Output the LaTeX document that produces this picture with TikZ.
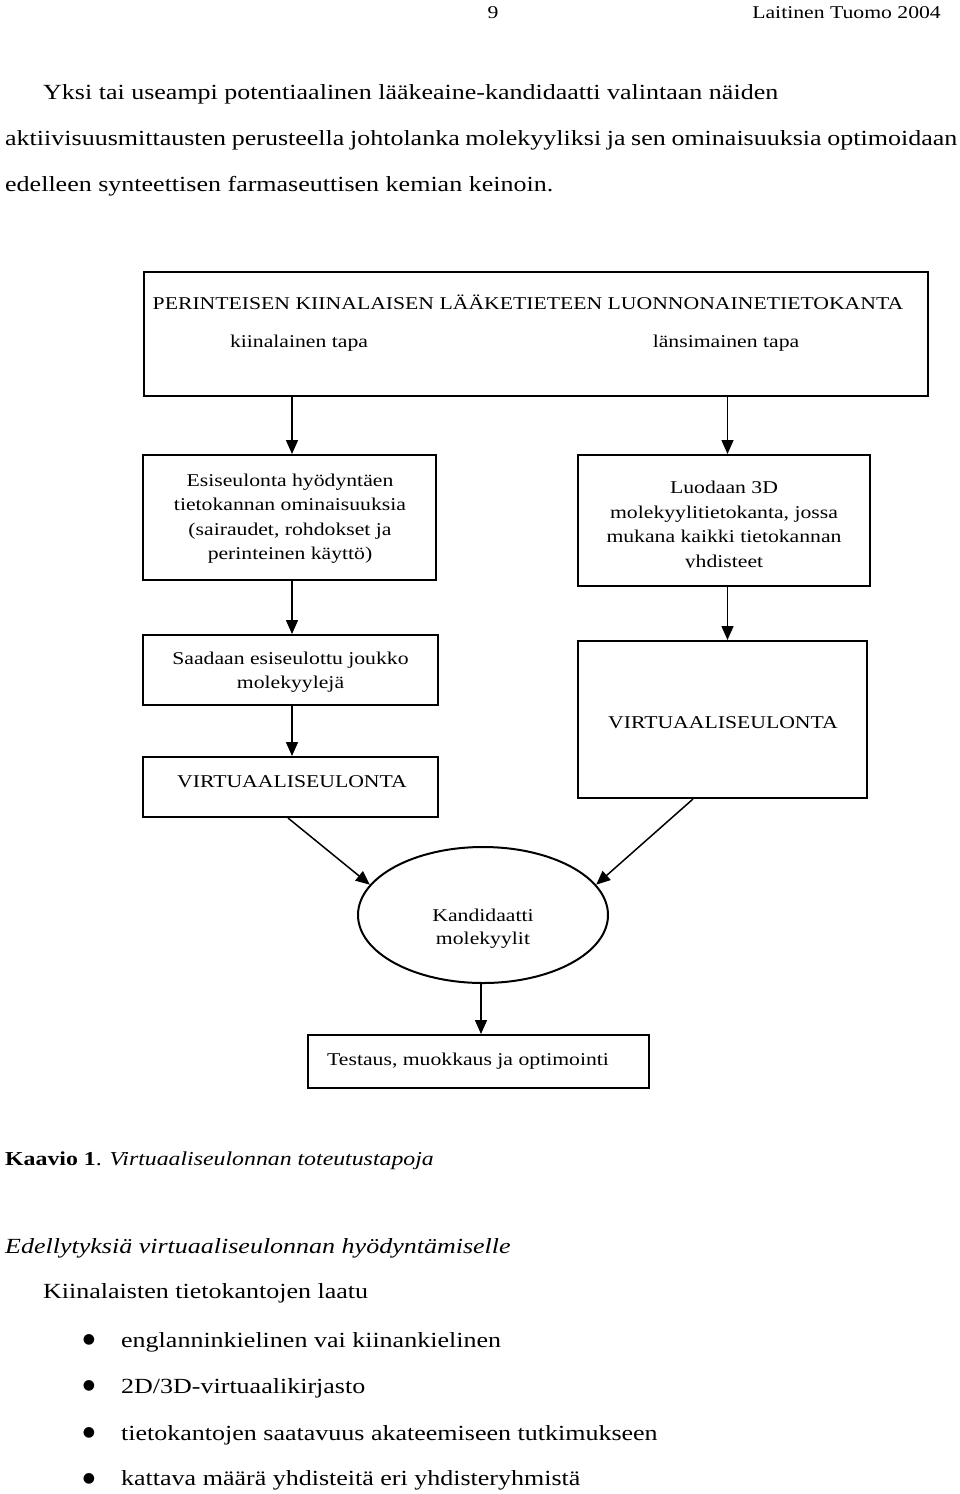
\documentclass[tikz,border=0pt]{standalone}
\usepackage{fontspec}
\setmainfont{Liberation Serif}
\newfontfamily\symfont{DejaVu Sans}
\usetikzlibrary{arrows.meta,shapes.geometric}
\begin{document}
\begin{tikzpicture}[x=1pt,y=-1pt,
  boxed/.style 2 args={draw, line width=2pt, rectangle, inner sep=0pt, minimum width=#1, minimum height=#2},
  stxt/.style={inner sep=0pt, anchor=base, yscale=0.83, font=\fontsize{21.7pt}{24pt}\selectfont},
  btxt/.style={inner sep=0pt, anchor=base west, yscale=0.83, font=\fontsize{26pt}{30pt}\selectfont},
  bul/.style={inner sep=0pt, anchor=center, font=\symfont\fontsize{14pt}{16pt}\selectfont},
  arr/.style={line width=1.5pt, -{Triangle[length=14pt,width=12pt]}}
]
\fill[white] (0,0) rectangle (960,1494);
\useasboundingbox (0,0) rectangle (960,1494);

% header
\node[stxt] (pg) at (493,18) {9};
\node[stxt, anchor=base east] (auth) at (941,18) {Laitinen Tuomo 2004};

% paragraph
\node[btxt] (p1) at (43,99) {Yksi tai useampi potentiaalinen lääkeaine-kandidaatti valintaan näiden};
\node[btxt] (p2) at (5,145) {\makebox[952pt][s]{aktiivisuusmittausten perusteella johtolanka molekyyliksi ja sen ominaisuuksia optimoidaan}};
\node[btxt] (p3) at (5,191) {edelleen synteettisen farmaseuttisen kemian keinoin.};

% boxes
\node[boxed={784pt}{124pt}] (top) at (536,334) {};
\node[boxed={293pt}{125pt}] (A) at (289.5,517.5) {};
\node[boxed={292pt}{131pt}] (B) at (724,520.5) {};
\node[boxed={295pt}{70pt}] (C) at (290.5,670) {};
\node[boxed={289pt}{157pt}] (D) at (722.5,719.5) {};
\node[boxed={295pt}{60pt}] (E) at (290.5,787) {};
\node[draw, line width=2pt, ellipse, inner sep=0pt, minimum width=250pt, minimum height=136pt] (K) at (483,915) {};
\node[boxed={341pt}{53pt}] (F) at (478.5,1061.5) {};

% box texts
\node[stxt] (t0) at (528,309) {PERINTEISEN KIINALAISEN LÄÄKETIETEEN LUONNONAINETIETOKANTA};
\node[stxt] (t1) at (299,347) {kiinalainen tapa};
\node[stxt] (t2) at (726,347) {länsimainen tapa};

\node[stxt] (a1) at (290,486) {Esiseulonta hyödyntäen};
\node[stxt] (a2) at (290,510.5) {tietokannan ominaisuuksia};
\node[stxt] (a3) at (290,535) {(sairaudet, rohdokset ja};
\node[stxt] (a4) at (290,559.5) {perinteinen käyttö)};

\node[stxt] (b1) at (724,493) {Luodaan 3D};
\node[stxt] (b2) at (724,518) {molekyylitietokanta, jossa};
\node[stxt] (b3) at (724,542) {mukana kaikki tietokannan};
\begin{scope}
\clip (580,550) rectangle (868,567.5);
\node[stxt] (b4) at (724,567) {yhdisteet};
\end{scope}

\node[stxt] (c1) at (290.5,664) {Saadaan esiseulottu joukko};
\node[stxt] (c2) at (290.5,688) {molekyylejä};
\node[stxt] (d1) at (723,728) {VIRTUAALISEULONTA};
\node[stxt] (e1) at (292,787) {VIRTUAALISEULONTA};
\node[stxt] (k1) at (483,921) {Kandidaatti};
\node[stxt] (k2) at (483,944) {molekyylit};
\node[stxt, anchor=base west] (f1) at (327,1065) {Testaus, muokkaus ja optimointi};

% connectors
\draw[arr] ([xshift=2.5pt]A.north |- top.south) -- ([xshift=2.5pt]A.north);
\draw[arr] ([xshift=3.5pt]B.north |- top.south) -- ([xshift=3.5pt]B.north);
\draw[arr] ([xshift=2.5pt]A.south) -- ([xshift=2.5pt]A.south |- C.north);
\draw[arr] ([xshift=3.5pt]B.south) -- ([xshift=3.5pt]B.south |- D.north);
\draw[arr] ([xshift=1.5pt]C.south) -- ([xshift=1.5pt]C.south |- E.north);
\draw[arr] ([xshift=-2.5pt]E.south) -- (K.165);
\draw[arr] ([xshift=-29.5pt]D.south) -- (K.15);
\draw[arr] ([xshift=-2pt]K.south) -- ([xshift=-2pt]K.south |- F.north);

% caption and list
\node[inner sep=0pt, anchor=base west, yscale=0.83, font=\fontsize{23.8pt}{28pt}\selectfont] (cap) at (5,1165) {\textbf{Kaavio 1}. \textit{Virtuaaliseulonnan toteutustapoja}};
\node[btxt, font=\fontsize{26pt}{30pt}\selectfont\itshape] (h2) at (5,1253) {Edellytyksiä virtuaaliseulonnan hyödyntämiselle};
\node[btxt] (l0) at (43,1298) {Kiinalaisten tietokantojen laatu};
\node[bul] (u1) at (89,1340) {●};
\node[bul] (u2) at (89,1386) {●};
\node[bul] (u3) at (89,1433) {●};
\node[bul] (u4) at (89,1479) {●};
\node[btxt] (l1) at (121,1347) {englanninkielinen vai kiinankielinen};
\node[btxt] (l2) at (121,1393) {2D/3D-virtuaalikirjasto};
\node[btxt] (l3) at (121,1440) {tietokantojen saatavuus akateemiseen tutkimukseen};
\node[btxt] (l4) at (121,1485) {kattava määrä yhdisteitä eri yhdisteryhmistä};
\end{tikzpicture}
\end{document}
